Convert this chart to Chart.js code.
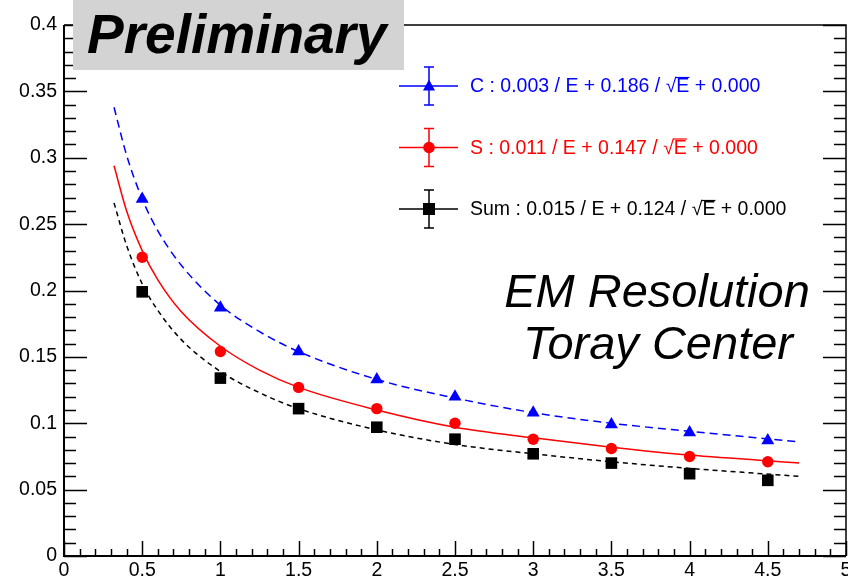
<!DOCTYPE html>
<html>
<head>
<meta charset="utf-8">
<script src="https://cdn.jsdelivr.net/npm/chart.js@4"></script>
<style>
  body { margin: 0; background: #fff; }
  canvas { display: block; }
</style>
</head>
<body>
<canvas id="graficoRes" width="848" height="579"></canvas>
<script>
// Energias dos pontos medidos
const energias = [0.5, 1, 1.5, 2, 2.5, 3, 3.5, 4, 4.5];
const resC   = [0.269, 0.187, 0.154, 0.133, 0.120, 0.108, 0.099, 0.093, 0.087];
const resS   = [0.225, 0.154, 0.127, 0.111, 0.100, 0.088, 0.081, 0.075, 0.071];
const resSum = [0.199, 0.134, 0.111, 0.097, 0.088, 0.077, 0.070, 0.062, 0.057];

// Curvas de ajuste
const fitE   = [0.32, 0.4, 0.5, 0.6, 0.75, 1, 1.25, 1.5, 2, 2.5, 3, 3.5, 4, 4.7];
const fitC   = [0.338, 0.302, 0.269, 0.245, 0.219, 0.189, 0.169, 0.154, 0.133, 0.119, 0.108, 0.100, 0.094, 0.086];
const fitS   = [0.294, 0.260, 0.230, 0.208, 0.184, 0.158, 0.140, 0.127, 0.110, 0.097, 0.089, 0.082, 0.076, 0.070];
const fitSum = [0.266, 0.234, 0.205, 0.185, 0.163, 0.139, 0.123, 0.111, 0.095, 0.084, 0.077, 0.071, 0.066, 0.060];

const xTickLabels = ['0', '0.5', '1', '1.5', '2', '2.5', '3', '3.5', '4', '4.5', '5'];
const yTickLabels = ['0', '0.05', '0.1', '0.15', '0.2', '0.25', '0.3', '0.35', '0.4'];

const legendas = [
  { label: 'C : 0.003 / E + 0.186 / ', tail: ' + 0.000', color: '#0000ff', style: 'triangle' },
  { label: 'S : 0.011 / E + 0.147 / ', tail: ' + 0.000', color: '#ff0000', style: 'circle' },
  { label: 'Sum : 0.015 / E + 0.124 / ', tail: ' + 0.000', color: '#000000', style: 'rect' }
];

const FONT = '"Liberation Sans", Arial, Helvetica, sans-serif';

function pontos(xs, ys) {
  return xs.map((x, i) => ({ x: x, y: ys[i] }));
}

// Moldura estilo ROOT com ticks para dentro
const molduraPlugin = {
  id: 'moldura',
  afterDraw(chart) {
    const ctx = chart.ctx;
    const a = chart.chartArea;
    const xs = chart.scales.x, ys = chart.scales.y;
    ctx.save();
    ctx.strokeStyle = '#000';
    ctx.lineWidth = 1.5;
    // ticks em y (esquerda e direita)
    for (let k = 0; k <= 40; k++) {
      const py = Math.round(ys.getPixelForValue(k / 100)) + 0.5;
      const len = (k % 5 === 0) ? 23 : 12;
      ctx.beginPath();
      ctx.moveTo(a.left, py); ctx.lineTo(a.left + len, py);
      ctx.moveTo(a.right, py); ctx.lineTo(a.right - len, py);
      ctx.stroke();
    }
    // ticks em x (embaixo)
    for (let k = 0; k <= 50; k++) {
      const px = Math.round(xs.getPixelForValue(k / 10)) + 0.5;
      const len = (k % 5 === 0) ? 15 : 7;
      ctx.beginPath();
      ctx.moveTo(px, a.bottom); ctx.lineTo(px, a.bottom - len);
      ctx.stroke();
    }
    ctx.lineWidth = 1.5;
    ctx.beginPath();
    ctx.moveTo(a.left, a.top); ctx.lineTo(a.right, a.top); ctx.lineTo(a.right, a.bottom);
    ctx.stroke();
    ctx.lineWidth = 2;
    ctx.beginPath();
    ctx.moveTo(a.left, a.top); ctx.lineTo(a.left, a.bottom); ctx.lineTo(a.right, a.bottom);
    ctx.stroke();

    // caixa "Preliminary"
    ctx.fillStyle = '#d3d3d3';
    ctx.fillRect(73, 0, 331, 70);
    ctx.fillStyle = '#000';
    ctx.font = 'italic bold 55px ' + FONT;
    ctx.textAlign = 'left';
    ctx.textBaseline = 'alphabetic';
    ctx.fillText('Preliminary', 87, 53);

    // texto do detector
    ctx.font = 'italic 47px ' + FONT;
    ctx.textAlign = 'center';
    ctx.fillText('EM Resolution', 657, 307);
    ctx.fillText('Toray Center', 658, 359);

    // legenda
    ctx.textAlign = 'left';
    ctx.textBaseline = 'middle';
    ctx.font = '19.5px ' + FONT;
    legendas.forEach((l, i) => {
      const cy = 86 + i * 61.5;
      const cx = 429;
      ctx.strokeStyle = l.color;
      ctx.fillStyle = l.color;
      ctx.lineWidth = 1.5;
      ctx.beginPath();
      ctx.moveTo(399, cy); ctx.lineTo(458, cy);
      ctx.moveTo(cx, cy - 19); ctx.lineTo(cx, cy + 19);
      ctx.moveTo(cx - 5, cy - 19); ctx.lineTo(cx + 5, cy - 19);
      ctx.moveTo(cx - 5, cy + 19); ctx.lineTo(cx + 5, cy + 19);
      ctx.stroke();
      ctx.beginPath();
      if (l.style === 'triangle') {
        ctx.moveTo(cx, cy - 6.5); ctx.lineTo(cx + 6, cy + 4.5); ctx.lineTo(cx - 6, cy + 4.5);
        ctx.closePath(); ctx.fill();
      } else if (l.style === 'circle') {
        ctx.arc(cx, cy, 5.8, 0, Math.PI * 2); ctx.fill();
      } else {
        ctx.fillRect(cx - 6, cy - 6, 12, 12);
      }
      const tx = 470;
      ctx.fillText(l.label, tx, cy + 1);
      const w1 = ctx.measureText(l.label).width;
      const wr = ctx.measureText('\u221A').width;
      ctx.fillText('\u221AE', tx + w1, cy + 1);
      const we = ctx.measureText('E').width;
      ctx.lineWidth = 1.2;
      ctx.beginPath();
      ctx.moveTo(tx + w1 + wr - 1, cy - 8.5);
      ctx.lineTo(tx + w1 + wr + we, cy - 8.5);
      ctx.stroke();
      ctx.fillText(l.tail, tx + w1 + wr + we, cy + 1);
    });
    ctx.restore();
  }
};

const ctx = document.getElementById('graficoRes').getContext('2d');
const chart = new Chart(ctx, {
  type: 'scatter',
  data: {
    datasets: [
      { label: 'C', data: pontos(energias, resC), pointStyle: 'triangle', pointRadius: 7.5,
        backgroundColor: '#0000ff', borderColor: '#0000ff', borderWidth: 0, order: 1 },
      { label: 'S', data: pontos(energias, resS), pointStyle: 'circle', pointRadius: 5.7,
        backgroundColor: '#ff0000', borderColor: '#ff0000', borderWidth: 0, order: 1 },
      { label: 'Sum', data: pontos(energias, resSum), pointStyle: 'rect', pointRadius: 8.2,
        backgroundColor: '#000000', borderColor: '#000000', borderWidth: 0, order: 1 },
      { label: 'fit C', data: pontos(fitE, fitC), showLine: true, pointRadius: 0,
        borderColor: '#0000ff', borderWidth: 1.5, borderDash: [8, 5],
        cubicInterpolationMode: 'monotone', order: 2 },
      { label: 'fit S', data: pontos(fitE, fitS), showLine: true, pointRadius: 0,
        borderColor: '#ff0000', borderWidth: 1.5,
        cubicInterpolationMode: 'monotone', order: 2 },
      { label: 'fit Sum', data: pontos(fitE, fitSum), showLine: true, pointRadius: 0,
        borderColor: '#000000', borderWidth: 1.5, borderDash: [5, 4],
        cubicInterpolationMode: 'monotone', order: 2 }
    ]
  },
  options: {
    responsive: false,
    animation: false,
    layout: { autoPadding: false, padding: { top: 25, right: 2, left: 0, bottom: 0 } },
    plugins: {
      legend: { display: false },
      tooltip: { enabled: false }
    },
    scales: {
      x: {
        type: 'linear', min: 0, max: 5,
        border: { display: false },
        grid: { display: false, drawTicks: false },
        ticks: {
          stepSize: 0.5, autoSkip: false, maxRotation: 0, padding: 3,
          color: '#000', font: { family: FONT, size: 19.5 },
          callback: (v, i) => xTickLabels[i]
        },
        afterFit: (s) => { s.height = 23; s.paddingLeft = 0; s.paddingRight = 0; }
      },
      y: {
        type: 'linear', min: 0, max: 0.4,
        border: { display: false },
        grid: { display: false, drawTicks: false },
        ticks: {
          stepSize: 0.05, autoSkip: false, padding: 7,
          color: '#000', font: { family: FONT, size: 19.5 },
          callback: (v, i) => yTickLabels[i]
        },
        afterFit: (s) => { s.width = 64; s.paddingTop = 0; s.paddingBottom = 0; }
      }
    }
  },
  plugins: [molduraPlugin]
});
</script>
</body>
</html>
